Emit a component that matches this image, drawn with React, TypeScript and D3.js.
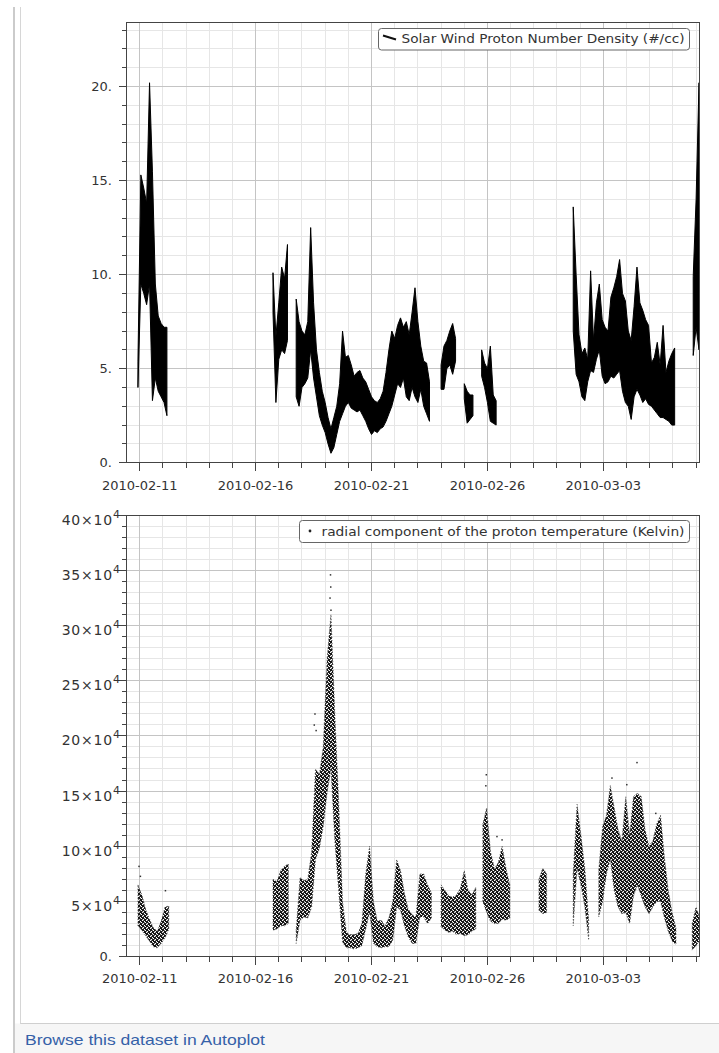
import React from "react";
import * as d3 from "d3";

// ---------- time axis ----------
const DAY_MS = 86400000;
const T0 = Date.UTC(2010, 1, 11); // 2010-02-11 00:00 UTC, day offsets below are relative to it
const X_START = Date.UTC(2010, 1, 10, 9, 50);
const X_END = Date.UTC(2010, 2, 7, 3, 0);
const xMajorTickLabels = ["2010-02-11", "2010-02-16", "2010-02-21", "2010-02-26", "2010-03-03"];

// ---------- top panel: proton density (#/cc), min/max per 3-hour bin ----------
const densStep = 0.125; // days
const densSegStart = [-0.075, 5.75, 13.0, 14.0, 14.75, 18.7, 23.875];
const densA_lo = [4.0, 9.5, 9.0, 8.4, 9.5, 3.3, 4.5, 3.8, 3.5, 3.2, 2.5];
const densA_hi = [5.4, 15.3, 14.6, 13.8, 20.2, 15.5, 9.5, 7.8, 7.4, 7.2, 7.2];
const densB_lo = [8.0, 3.2, 5.5, 6.0, 5.8, 6.5, null, null, 3.5, 3.0, 4.0, 4.2, 4.5, 6.0, 4.5, 3.5, 2.5, 2.0, 1.6, 1.0, 0.5, 0.8, 1.5, 2.2, 2.6, 3.0, 3.2, 2.9, 2.8, 2.7, 2.8, 2.5, 2.2, 1.8, 1.5, 1.7, 1.6, 1.8, 1.9, 2.2, 2.6, 3.0, 3.6, 4.2, 4.0, 4.5, 3.5, 3.3, 4.0, 3.5, 3.2, 3.9, 3.0, 2.6, 2.2];
const densB_hi = [10.1, 6.7, 8.5, 10.4, 9.8, 11.6, null, null, 8.7, 7.5, 7.0, 6.8, 7.5, 12.5, 8.5, 6.0, 4.8, 3.8, 3.2, 2.4, 1.8, 2.4, 3.0, 4.2, 7.0, 5.6, 5.7, 5.2, 4.6, 4.8, 4.9, 4.5, 4.3, 3.9, 3.5, 3.3, 3.2, 3.4, 3.8, 4.8, 6.0, 7.0, 6.6, 7.3, 7.7, 7.2, 7.5, 6.8, 8.0, 9.3, 7.5, 6.2, 5.4, 5.3, 4.3];
const densC_lo = [3.9, 3.9, 5.0, 5.2, 4.7, 5.4];
const densC_hi = [5.2, 6.2, 6.5, 7.0, 7.4, 6.6];
const densD_lo = [3.4, 2.1, 2.3, 2.5];
const densD_hi = [4.2, 3.8, 3.6, 3.6];
const densE_lo = [4.6, 4.0, 3.2, 2.2, 2.1, 2.0];
const densE_hi = [6.0, 5.3, 5.0, 6.2, 3.6, 3.3];
const densF_lo = [7.0, 4.7, 4.3, 3.5, 3.3, 4.3, 4.9, 4.8, 5.5, 6.0, 4.6, 4.2, 4.3, 4.6, 4.5, 4.7, 4.9, 3.8, 3.2, 3.0, 2.3, 3.5, 3.9, 3.6, 3.2, 3.4, 3.1, 3.0, 2.8, 2.6, 2.4, 2.4, 2.3, 2.2, 2.0, 2.0];
const densF_hi = [13.6, 10.0, 6.8, 5.8, 6.1, 5.5, 10.2, 6.5, 8.5, 9.5, 7.6, 7.2, 7.0, 8.8, 9.3, 9.9, 10.8, 9.0, 8.6, 7.0, 6.5, 8.3, 10.4, 8.5, 8.1, 7.6, 7.3, 5.3, 5.6, 6.4, 5.2, 7.3, 4.8, 5.4, 5.8, 6.1];
const densG_lo = [5.7, 7.2, 6.0];
const densG_hi = [9.9, 14.0, 20.2];

const densYTicks = [0, 5, 10, 15, 20];
const densYLabels = ["0.", "5.", "10.", "15.", "20."];
const DENS_MAX = 23.43;

// ---------- bottom panel: radial proton temperature (x 1e4 K), spread per 4-hour bin ----------
const tempStep = 1 / 6; // days
const tempSegStart = [-0.075, 5.75, 13.0, 14.8, 17.22, 18.7, 19.8, 23.83];
const tempA_lo = [2.8, 2.4, 1.9, 1.4, 0.9, 0.8, 1.2, 1.7, 2.5];
const tempA_hi = [6.5, 5.6, 4.3, 3.4, 2.6, 2.3, 3.2, 4.5, 4.6];
const tempB_lo = [2.4, 2.5, 2.8, 2.8, 3.0, null, 1.2, 3.3, 3.6, 3.5, 4.5, 8.8, 9.8, 11.8, 14.8, 17.0, 10.5, 6.0, 1.3, 0.8, 0.8, 0.7, 0.8, 1.0, 2.5, 4.0, 1.2, 0.9, 0.8, 0.9, 0.9, 1.5, 4.5, 4.2, 2.8, 1.8, 1.2, 1.2, 3.6, 3.6, 3.0, 3.5];
const tempB_hi = [7.0, 6.8, 7.8, 8.2, 8.4, null, 2.4, 7.2, 6.9, 7.0, 9.5, 17.0, 16.5, 19.0, 27.0, 31.0, 22.0, 14.0, 5.0, 2.2, 2.0, 2.0, 2.1, 3.0, 7.5, 10.0, 5.0, 3.2, 3.3, 2.8, 3.5, 5.0, 8.8, 7.8, 5.8, 4.3, 3.8, 3.6, 7.5, 7.5, 6.5, 5.8];
const tempC_lo = [2.7, 2.4, 2.2, 2.3, 2.0, 2.1, 1.9, 2.0, 2.3, 2.5];
const tempC_hi = [6.5, 6.0, 5.5, 5.4, 5.6, 6.2, 7.8, 6.0, 5.6, 6.3];
const tempD_lo = [5.0, 4.0, 3.2, 3.0, 3.0, 3.4, 3.3, 3.5];
const tempD_hi = [12.0, 13.5, 9.5, 8.0, 8.5, 10.0, 8.0, 6.5];
const tempE_lo = [4.2, 3.9, 4.0];
const tempE_hi = [7.0, 8.0, 7.5];
const tempF_lo = [2.8, 8.0, 6.5, 4.5, 1.5];
const tempF_hi = [7.5, 13.8, 11.0, 8.0, 3.3];
const tempG_lo = [3.6, 5.0, 7.5, 8.8, 6.0, 4.5, 3.9, 4.0, 3.0, 5.5, 6.5, 5.5, 4.5, 3.9, 4.5, 5.0, 5.0, 3.5, 2.3, 1.4, 1.1];
const tempG_hi = [7.9, 11.8, 12.8, 15.5, 13.5, 11.5, 10.5, 14.5, 11.0, 14.5, 14.8, 14.5, 11.5, 10.0, 10.5, 12.0, 12.8, 9.0, 6.0, 4.0, 2.6];
const tempH_lo = [0.6, 1.0, 1.5];
const tempH_hi = [3.0, 4.5, 3.5];
// isolated points [day offset, value x1e4]
const tempOutlierDay = [-0.04, 0.02, 1.1, 7.52, 7.55, 7.6, 8.2, 8.22, 8.23, 8.24, 14.92, 14.94, 15.4, 15.62, 20.36, 21.44, 21.0, 22.25];
const tempOutlierVal = [8.2, 7.3, 6.0, 21.0, 22.0, 20.5, 32.5, 34.6, 33.5, 31.4, 15.5, 16.5, 10.9, 10.6, 16.2, 17.6, 15.6, 13.0];

const tempYTicks = [0, 5, 10, 15, 20, 25, 30, 35, 40];
const tempYMantissa = ["0.", "5", "10", "15", "20", "25", "30", "35", "40"];
const TEMP_MAX = 40;

// ---------- layout ----------
const PL = 126, PR = 699;
const T1 = 22, B1 = 462.7;
const T2 = 515, B2 = 956.7;

type Pt = { t: Date; lo: number | null; hi: number | null };

function buildSeg(start: number, step: number, lo: (number | null)[], hi: (number | null)[]): Pt[] {
  return lo.map((l, i) => ({ t: new Date(T0 + (start + i * step) * DAY_MS), lo: l, hi: hi[i] }));
}

// speckle tile for the scatter envelope (pure styling)
const SPECK_DARK = [[0, 0], [1, 0], [1, 1], [2, 1], [3, 1], [2, 2], [3, 2], [0, 3], [1, 3]];
const SPECK_MID = [[3, 0], [0, 2], [2, 3]];

export default function App() {
  const x = d3.scaleUtc().domain([new Date(X_START), new Date(X_END)]).range([PL, PR]);
  const yD = d3.scaleLinear().domain([0, DENS_MAX]).range([B1, T1]);
  const yT = d3.scaleLinear().domain([0, TEMP_MAX]).range([B2, T2]);
  const fmt = d3.utcFormat("%Y-%m-%d");
  const days = d3.utcDay.range(new Date(X_START), new Date(X_END));

  const densPairs: [(number | null)[], (number | null)[]][] = [
    [densA_lo, densA_hi], [densB_lo, densB_hi], [densC_lo, densC_hi], [densD_lo, densD_hi],
    [densE_lo, densE_hi], [densF_lo, densF_hi], [densG_lo, densG_hi],
  ];
  const densSegs = densPairs.map((p, i) => buildSeg(densSegStart[i], densStep, p[0], p[1]));
  const tempPairs: [(number | null)[], (number | null)[]][] = [
    [tempA_lo, tempA_hi], [tempB_lo, tempB_hi], [tempC_lo, tempC_hi], [tempD_lo, tempD_hi],
    [tempE_lo, tempE_hi], [tempF_lo, tempF_hi], [tempG_lo, tempG_hi], [tempH_lo, tempH_hi],
  ];
  const tempSegs = tempPairs.map((p, i) => buildSeg(tempSegStart[i], tempStep, p[0], p[1]));

  const areaD = d3.area<Pt>().defined((p) => p.lo != null).x((p) => x(p.t)).y0((p) => yD(p.lo as number)).y1((p) => yD(p.hi as number));
  const areaT = d3.area<Pt>().defined((p) => p.lo != null).x((p) => x(p.t)).y0((p) => yT(p.lo as number)).y1((p) => yT(p.hi as number));

  const gridMinor = "#e6e6e6";
  const gridMajor = "#c4c4c4";
  const axisCol = "#444";
  const textCol = "#333";

  const vGrid = (top: number, bottom: number) =>
    days.map((d) => {
      const major = xMajorTickLabels.includes(fmt(d));
      const xx = x(d);
      return <line key={"vg" + top + "_" + +d} x1={xx} x2={xx} y1={top} y2={bottom} stroke={major ? gridMajor : gridMinor} />;
    });

  const xAxis = (bottom: number, labelY: number) => (
    <g>
      {days.map((d) => {
        const major = xMajorTickLabels.includes(fmt(d));
        const xx = x(d);
        return (
          <g key={"xt" + bottom + "_" + +d}>
            <line x1={xx} x2={xx} y1={bottom} y2={bottom + (major ? 8 : 5)} stroke={axisCol} />
            {major && (
              <text x={xx} y={labelY} textAnchor="middle" fontSize={13} fill={textCol}>
                {fmt(d)}
              </text>
            )}
          </g>
        );
      })}
    </g>
  );

  const densMinor = d3.range(1, 24).filter((v) => v % 5 !== 0 && v <= DENS_MAX);
  const tempMinor = d3.range(1, 40).filter((v) => v % 5 !== 0);

  return (
    <svg width={719} height={1053} style={{ position: "absolute", left: 0, top: 0 }} fontFamily="DejaVu Sans">
      <defs>
        <pattern id="speck" width="4" height="4" patternUnits="userSpaceOnUse">
          {SPECK_DARK.map(([a, b], i) => (
            <rect key={"sd" + i} x={a} y={b} width={1} height={1} fill="#141414" />
          ))}
          {SPECK_MID.map(([a, b], i) => (
            <rect key={"sm" + i} x={a} y={b} width={1} height={1} fill="#6a6a6a" />
          ))}
        </pattern>
        <clipPath id="clipTop">
          <rect x={PL} y={T1} width={PR - PL} height={B1 - T1} />
        </clipPath>
        <clipPath id="clipBot">
          <rect x={PL} y={T2} width={PR - PL} height={B2 - T2} />
        </clipPath>
      </defs>
      <rect x={0} y={0} width={719} height={1053} fill="#fff" />

      {/* page chrome */}
      <rect x={15} y={1023.5} width={704} height={30} fill="#f6f6f6" />
      <line x1={20} x2={719} y1={1023.5} y2={1023.5} stroke="#cfcfcf" />
      <rect x={13} y={7} width={2} height={1046} fill="#cbcbcb" />
      <line x1={20.5} x2={20.5} y1={7} y2={1023.5} stroke="#d6d6d6" />
      <text x={25} y={1045} fontFamily="Liberation Sans" fontSize={15} fill="#3561a8" textLength={240} lengthAdjust="spacingAndGlyphs">
        Browse this dataset in Autoplot
      </text>

      {/* ================= TOP PANEL ================= */}
      <g shapeRendering="crispEdges">
        {densMinor.map((v) => (
          <line key={"hm" + v} x1={PL} x2={PR} y1={yD(v)} y2={yD(v)} stroke={gridMinor} />
        ))}
        {vGrid(T1, B1)}
        {densYTicks.filter((v) => v > 0).map((v) => (
          <line key={"hM" + v} x1={PL} x2={PR} y1={yD(v)} y2={yD(v)} stroke={gridMajor} />
        ))}
      </g>
      <g clipPath="url(#clipTop)">
        {densSegs.map((s, i) => (
          <path key={"ds" + i} d={areaD(s) || ""} fill="#000" stroke="#000" strokeWidth={1} strokeLinejoin="round" />
        ))}
      </g>
      <g shapeRendering="crispEdges">
        <rect x={PL} y={T1} width={PR - PL} height={B1 - T1} fill="none" stroke={axisCol} />
        {densMinor.map((v) => (
          <line key={"ytm" + v} x1={PL - 4} x2={PL} y1={yD(v)} y2={yD(v)} stroke={axisCol} />
        ))}
        {densYTicks.map((v) => (
          <line key={"ytM" + v} x1={PL - 7} x2={PL} y1={yD(v)} y2={yD(v)} stroke={axisCol} />
        ))}
        {xAxis(B1, B1 + 27)}
      </g>
      {densYTicks.map((v, i) => (
        <text key={"yl" + v} x={112} y={yD(v) + 4.7} textAnchor="end" fontSize={13} fill={textCol}>
          {densYLabels[i]}
        </text>
      ))}
      {/* legend */}
      <rect x={378.5} y={28.5} width={311} height={21.5} rx={3} fill="#fff" stroke="#666" />
      <line x1={383} y1={35.5} x2={396} y2={39.5} stroke="#111" strokeWidth={2} />
      <text x={401.5} y={43} fontSize={12} fill={textCol} textLength={283} lengthAdjust="spacingAndGlyphs">
        Solar Wind Proton Number Density (#/cc)
      </text>

      {/* ================= BOTTOM PANEL ================= */}
      <g shapeRendering="crispEdges">
        {tempMinor.map((v) => (
          <line key={"thm" + v} x1={PL} x2={PR} y1={yT(v)} y2={yT(v)} stroke={gridMinor} />
        ))}
        {vGrid(T2, B2)}
        {tempYTicks.filter((v) => v > 0 && v < TEMP_MAX).map((v) => (
          <line key={"thM" + v} x1={PL} x2={PR} y1={yT(v)} y2={yT(v)} stroke={gridMajor} />
        ))}
      </g>
      <g clipPath="url(#clipBot)">
        {tempSegs.map((s, i) => (
          <path key={"ts" + i} d={areaT(s) || ""} fill="url(#speck)" stroke="#555" strokeWidth={1} strokeDasharray="1 2" />
        ))}
        {tempOutlierDay.map((d, i) => (
          <rect key={"to" + i} x={x(new Date(T0 + d * DAY_MS)) - 0.5} y={yT(tempOutlierVal[i]) - 0.5} width={1.5} height={1.5} fill="#333" />
        ))}
      </g>
      <g shapeRendering="crispEdges">
        <rect x={PL} y={T2} width={PR - PL} height={B2 - T2} fill="none" stroke={axisCol} />
        {tempMinor.map((v) => (
          <line key={"tytm" + v} x1={PL - 4} x2={PL} y1={yT(v)} y2={yT(v)} stroke={axisCol} />
        ))}
        {tempYTicks.map((v) => (
          <line key={"tytM" + v} x1={PL - 7} x2={PL} y1={yT(v)} y2={yT(v)} stroke={axisCol} />
        ))}
        {xAxis(B2, B2 + 26.3)}
      </g>
      {tempYTicks.map((v, i) => {
        if (v === 0) {
          return (
            <text key={"tyl" + v} x={112} y={yT(v) + 4.7} textAnchor="end" fontSize={13} fill={textCol}>
              {tempYMantissa[i]}
            </text>
          );
        }
        return (
          <text key={"tyl" + v} x={120} y={yT(v) + 9.5} textAnchor="end" fontSize={14} fill={textCol}>
            <tspan letterSpacing={0.8}>{tempYMantissa[i] + "×10"}</tspan>
            <tspan dy={-7} fontSize={11}>4</tspan>
          </text>
        );
      })}
      {/* legend */}
      <rect x={299.5} y={520.5} width={390} height={22} rx={3} fill="#fff" stroke="#666" />
      <circle cx={310} cy={531} r={1.4} fill="#222" />
      <text x={321.5} y={536} fontSize={12} fill={textCol} textLength={363} lengthAdjust="spacingAndGlyphs">
        radial component of the proton temperature (Kelvin)
      </text>
    </svg>
  );
}
